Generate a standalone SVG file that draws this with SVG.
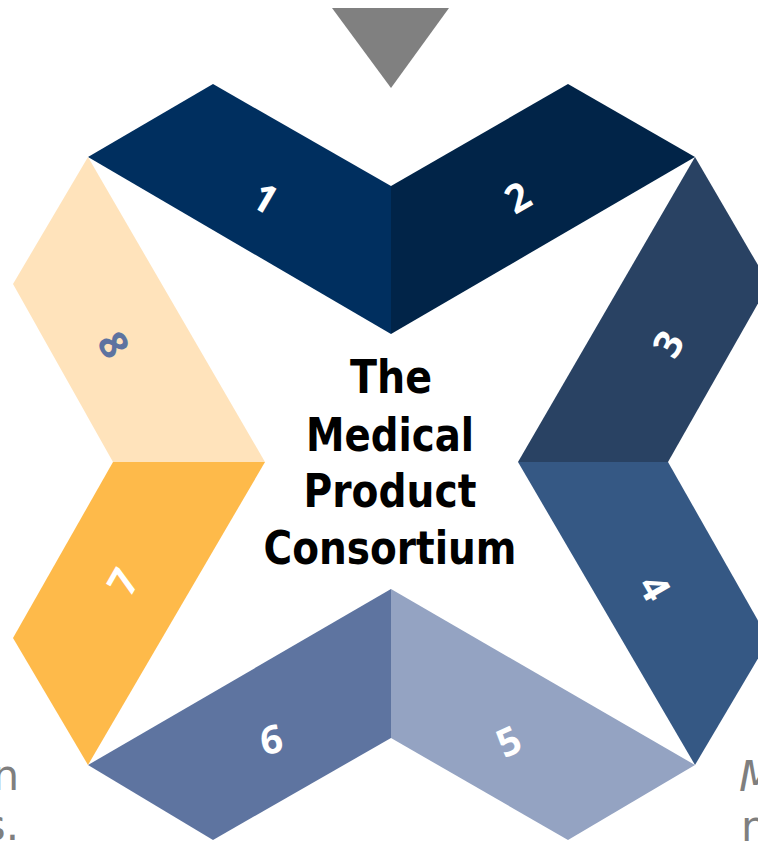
<svg xmlns="http://www.w3.org/2000/svg" width="758" height="843" viewBox="0 0 758 843">
<style>
.num{font-family:"Open Sans","DejaVu Sans",sans-serif;font-weight:700;font-size:39px;fill:#ffffff;text-anchor:middle;dominant-baseline:central}
.title{font-family:"DejaVu Sans",sans-serif;font-weight:700;font-size:47px;fill:#000000;text-anchor:middle}
.side{font-family:"DejaVu Sans",sans-serif;font-size:42px;fill:#7f7f7f}
</style>
<rect width="758" height="843" fill="#ffffff"/>
<g id="pointer"><polygon points="332,8 449,8 391,88" fill="#808080"/></g>
<g id="seg1"><polygon points="88,157 213,84 391,186 391,334" fill="#002f5f"/><text class="num" x="266" y="197" transform="rotate(30 266 197)">1</text></g>
<g id="seg2"><polygon points="391,186 568,84 695,157 391,334" fill="#012448"/><text class="num" x="517" y="196" transform="rotate(-30 517 196)">2</text></g>
<g id="seg3"><polygon points="695,157 769,284 668,462 518,462" fill="#294263"/><text class="num" x="667" y="343" transform="rotate(-60 667 343)">3</text></g>
<g id="seg4"><polygon points="518,462 668,462 769,640 695,765" fill="#355884"/><text class="num" x="656" y="587" transform="rotate(60 656 587)">4</text></g>
<g id="seg5"><polygon points="391,589 695,765 568,840 391,738" fill="#94a3c2"/><text class="num" x="508" y="740" transform="rotate(-25 508 740)">5</text></g>
<g id="seg6"><polygon points="88,765 391,589 391,738 213,840" fill="#5e74a0"/><text class="num" x="271" y="738" transform="rotate(-10 271 738)">6</text></g>
<g id="seg7"><polygon points="113,462 265,462 88,765 13,638" fill="#feba4a"/><text class="num" x="122" y="581" transform="rotate(-60 122 581)">7</text></g>
<g id="seg8"><polygon points="88,157 265,462 113,462 13,284" fill="#ffe3bb"/><text class="num" x="115" y="344" transform="rotate(60 115 344)" style="fill:#5d73a0">8</text></g>
<g id="center">
<text class="title" x="391" y="393" textLength="82" lengthAdjust="spacingAndGlyphs">The</text>
<text class="title" x="390" y="451" textLength="168" lengthAdjust="spacingAndGlyphs">Medical</text>
<text class="title" x="390" y="507" textLength="173" lengthAdjust="spacingAndGlyphs">Product</text>
<text class="title" x="390" y="564" textLength="253" lengthAdjust="spacingAndGlyphs">Consortium</text>
</g>
<g id="side-left"><text class="side" x="19" y="790" text-anchor="end">n</text><text class="side" x="19" y="840" text-anchor="end">s.</text></g>
<g id="side-right"><text class="side" x="739" y="791" font-style="italic">M</text><text class="side" x="741" y="841">n</text></g>
</svg>
